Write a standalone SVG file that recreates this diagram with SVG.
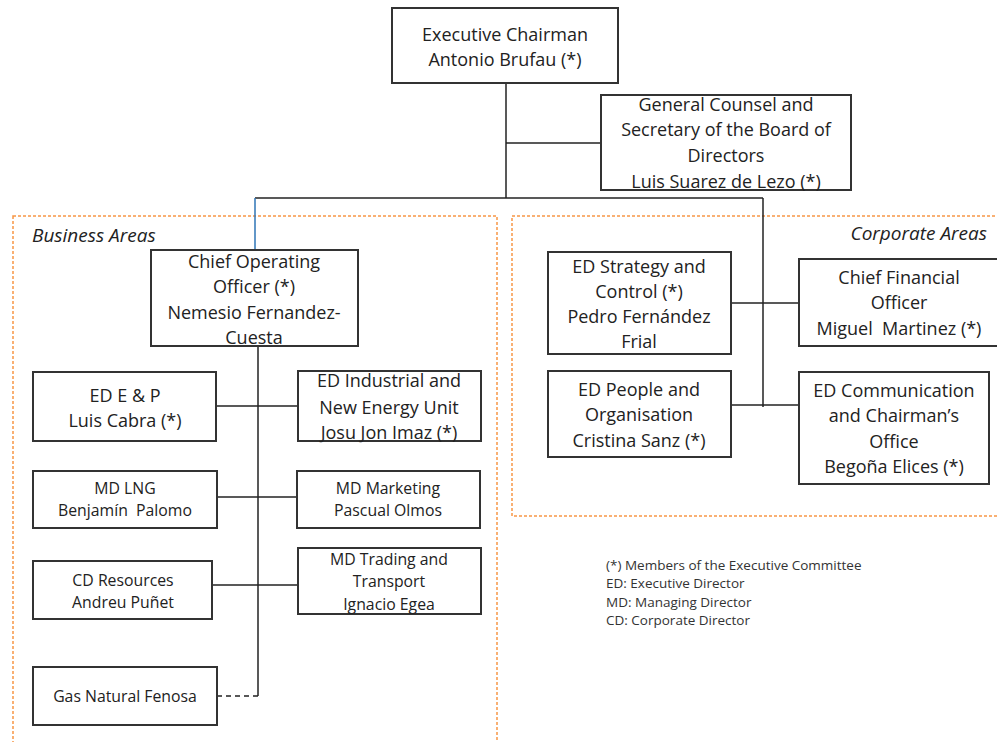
<svg xmlns="http://www.w3.org/2000/svg" width="997" height="742" viewBox="0 0 997 742">
<style>
.area{fill:none;stroke:#f79646;stroke-width:1.5;stroke-dasharray:3,2}
.box{fill:#fff;stroke:#333;stroke-width:2}
.t{font-family:"Open Sans","Liberation Sans",sans-serif;font-size:18px;fill:#222;text-anchor:middle}
.s{font-size:15.8px}
.lbl{font-family:"Open Sans","Liberation Sans",sans-serif;font-size:19px;font-style:italic;fill:#222}
.leg{font-family:"Open Sans","Liberation Sans",sans-serif;font-size:13.5px;fill:#333}
.c{fill:none;stroke:#222;stroke-width:1.5}
</style>
<rect width="997" height="742" fill="#fff"/>
<g id="business-areas">
<rect class="area" x="13" y="216" width="484" height="530"/>
<text class="lbl" x="32" y="242">Business Areas</text>
</g>
<g id="corporate-areas">
<rect class="area" x="512" y="216" width="490" height="300"/>
<text class="lbl" x="987" y="240" text-anchor="end">Corporate Areas</text>
</g>
<g id="connectors">
<line class="c" x1="506" y1="83" x2="506" y2="198"/>
<line class="c" x1="506" y1="143" x2="601" y2="143"/>
<line class="c" x1="255" y1="198" x2="763" y2="198"/>
<line x1="255" y1="198" x2="255" y2="250" stroke="#2e75b6" stroke-width="1.5"/>
<line class="c" x1="763" y1="198" x2="763" y2="407"/>
<line class="c" x1="731" y1="303" x2="799" y2="303"/>
<line class="c" x1="731" y1="405" x2="799" y2="405"/>
<line class="c" x1="258" y1="346" x2="258" y2="696"/>
<line class="c" x1="216" y1="406" x2="298" y2="406"/>
<line class="c" x1="218" y1="497" x2="297" y2="497"/>
<line class="c" x1="212" y1="585" x2="298" y2="585"/>
<line class="c" x1="217" y1="696" x2="258" y2="696" stroke-dasharray="5,4"/>
</g>
<g id="chairman">
<rect class="box" x="392" y="8" width="226" height="75"/>
<text class="t" x="505" y="41">Executive Chairman</text>
<text class="t" x="505" y="66">Antonio Brufau (*)</text>
</g>
<g id="general-counsel">
<rect class="box" x="601" y="95" width="250" height="95"/>
<text class="t" x="726" y="111">General Counsel and</text>
<text class="t" x="726" y="136">Secretary of the Board of</text>
<text class="t" x="726" y="162">Directors</text>
<text class="t" x="726" y="188">Luis Suarez de Lezo (*)</text>
</g>
<g id="coo">
<rect class="box" x="151" y="250" width="207" height="96"/>
<text class="t" x="254" y="268">Chief Operating</text>
<text class="t" x="254" y="293">Officer (*)</text>
<text class="t" x="254" y="319">Nemesio Fernandez-</text>
<text class="t" x="254" y="344">Cuesta</text>
</g>
<g id="ed-ep">
<rect class="box" x="33" y="372" width="183" height="69"/>
<text class="t" x="125" y="402">ED E &amp; P</text>
<text class="t" x="125" y="427">Luis Cabra (*)</text>
</g>
<g id="ed-industrial">
<rect class="box" x="298" y="371" width="183" height="70"/>
<text class="t" x="389" y="387">ED Industrial and</text>
<text class="t" x="389" y="414">New Energy Unit</text>
<text class="t" x="389" y="439">Josu Jon Imaz (*)</text>
</g>
<g id="md-lng">
<rect class="box" x="33" y="471" width="184" height="57"/>
<text class="t s" x="125" y="494">MD LNG</text>
<text class="t s" x="125" y="516">Benjamín&#160; Palomo</text>
</g>
<g id="md-marketing">
<rect class="box" x="297" y="471" width="183" height="57"/>
<text class="t s" x="388" y="494">MD Marketing</text>
<text class="t s" x="388" y="516">Pascual Olmos</text>
</g>
<g id="cd-resources">
<rect class="box" x="33" y="561" width="179" height="58"/>
<text class="t s" x="123" y="586">CD Resources</text>
<text class="t s" x="123" y="608">Andreu Puñet</text>
</g>
<g id="md-trading">
<rect class="box" x="298" y="548" width="183" height="66"/>
<text class="t s" x="389" y="565">MD Trading and</text>
<text class="t s" x="389" y="587">Transport</text>
<text class="t s" x="389" y="610">Ignacio Egea</text>
</g>
<g id="gas-natural">
<rect class="box" x="33" y="667" width="184" height="58"/>
<text class="t s" x="125" y="702">Gas Natural Fenosa</text>
</g>
<g id="ed-strategy">
<rect class="box" x="548" y="252" width="183" height="102"/>
<text class="t" x="639" y="273">ED Strategy and</text>
<text class="t" x="639" y="298">Control (*)</text>
<text class="t" x="639" y="323">Pedro Fernández</text>
<text class="t" x="639" y="348">Frial</text>
</g>
<g id="cfo">
<rect class="box" x="799" y="259" width="200" height="87"/>
<text class="t" x="899" y="284">Chief Financial</text>
<text class="t" x="899" y="309">Officer</text>
<text class="t" x="899" y="335">Miguel&#160; Martinez (*)</text>
</g>
<g id="ed-people">
<rect class="box" x="548" y="371" width="183" height="86"/>
<text class="t" x="639" y="396">ED People and</text>
<text class="t" x="639" y="421">Organisation</text>
<text class="t" x="639" y="447">Cristina Sanz (*)</text>
</g>
<g id="ed-communication">
<rect class="box" x="799" y="372" width="190" height="112"/>
<text class="t" x="894" y="397">ED Communication</text>
<text class="t" x="894" y="422">and Chairman’s</text>
<text class="t" x="894" y="448">Office</text>
<text class="t" x="894" y="473">Begoña Elices (*)</text>
</g>
<g id="legend">
<text class="leg" x="606" y="570">(*) Members of the Executive Committee</text>
<text class="leg" x="606" y="588">ED: Executive Director</text>
<text class="leg" x="606" y="607">MD: Managing Director</text>
<text class="leg" x="606" y="625">CD: Corporate Director</text>
</g>
</svg>
